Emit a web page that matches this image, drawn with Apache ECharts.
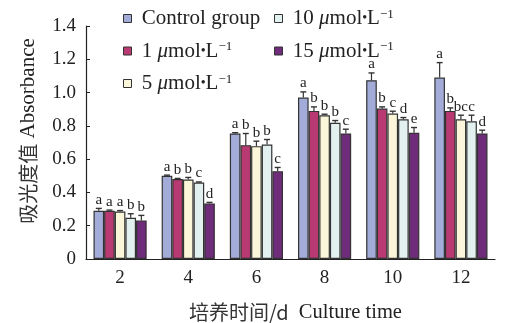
<!DOCTYPE html>
<html>
<head>
<meta charset="utf-8">
<script src="https://cdn.jsdelivr.net/npm/echarts@6/dist/echarts.min.js"></script>
<style>html,body{margin:0;padding:0;background:#fff;}#c{width:505px;height:323px;}</style>
</head>
<body>
<div id="c"></div>
<script>
const categories = ['2', '4', '6', '8', '10', '12'];
const seriesNames = ['Control group', '1 μmol•L-1', '5 μmol•L-1', '10 μmol•L-1', '15 μmol•L-1'];

const controlVals = [0.290, 0.500, 0.754, 0.970, 1.074, 1.090];
const c1Vals      = [0.290, 0.480, 0.684, 0.890, 0.904, 0.890];
const c5Vals      = [0.285, 0.478, 0.678, 0.864, 0.874, 0.840];
const c10Vals     = [0.248, 0.460, 0.688, 0.818, 0.840, 0.828];
const c15Vals     = [0.232, 0.334, 0.528, 0.754, 0.758, 0.754];

const controlErr = [0.014, 0.004, 0.005, 0.034, 0.044, 0.090];
const c1Err      = [0.004, 0.004, 0.070, 0.024, 0.010, 0.018];
const c5Err      = [0.006, 0.012, 0.030, 0.006, 0.014, 0.024];
const c10Err     = [0.024, 0.003, 0.030, 0.014, 0.010, 0.036];
const c15Err     = [0.030, 0.006, 0.022, 0.026, 0.032, 0.020];

const controlLetters = ['a', 'a', 'a', 'a', 'a', 'a'];
const c1Letters      = ['a', 'b', 'b', 'b', 'b', 'b'];
const c5Letters      = ['a', 'b', 'b', 'b', 'c', 'bc'];
const c10Letters     = ['b', 'c', 'b', 'b', 'd', 'c'];
const c15Letters     = ['b', 'd', 'c', 'c', 'e', 'd'];

const yTicks = ['0', '0.2', '0.4', '0.6', '0.8', '1.0', '1.2', '1.4'];

const allVals = [controlVals, c1Vals, c5Vals, c10Vals, c15Vals];
const allErr = [controlErr, c1Err, c5Err, c10Err, c15Err];
const allLetters = [controlLetters, c1Letters, c5Letters, c10Letters, c15Letters];
const colors = ['#a3acd8', '#b93a72', '#fbf6d9', '#e2f1ef', '#6e2c7a'];

const SERIF = '"Liberation Serif", "Times New Roman", serif';
const CJK = '"Noto Sans CJK SC", sans-serif';
const GAP = 0.22;

const chart = echarts.init(document.getElementById('c'), null, {renderer: 'canvas'});

function legendFmt(name) {
  if (name.indexOf('μmol') < 0) return '{sp| }{t|' + name + '}';
  const num = name.split(' ')[0];
  return '{sp| }{t|' + num + ' }{mu|μ}{t|mol}{dot|•}{t|L}{sup|−1}';
}
const legendRich = {
  sp: {fontFamily: SERIF, fontSize: 21, color: '#222'},
  t: {fontFamily: SERIF, fontSize: 21, color: '#222'},
  mu: {fontFamily: SERIF, fontSize: 21, fontStyle: 'italic', color: '#222'},
  dot: {fontFamily: SERIF, fontSize: 14, color: '#222'},
  sup: {fontFamily: SERIF, fontSize: 13, color: '#222', verticalAlign: 'top'}
};

const barSeries = seriesNames.map((n, i) => ({
  name: n,
  type: 'bar',
  data: allVals[i],
  barGap: '0%',
  barCategoryGap: (GAP * 100) + '%',
  itemStyle: {color: colors[i], borderColor: '#333', borderWidth: 1.2},
  z: 2
}));

const errSeries = seriesNames.map((n, si) => ({
  type: 'custom',
  name: 'err' + si,
  z: 3,
  silent: true,
  data: categories.map((c, k) => [k, allVals[si][k], allErr[si][k]]),
  renderItem: function (params, api) {
    const k = api.value(0), v = api.value(1), e = api.value(2);
    const base = api.coord([k, v]);
    const top = api.coord([k, v + e]);
    const band = api.size([1, 0])[0];
    const bw = band * (1 - GAP) / 5;
    const x = base[0] + (si - 2) * bw;
    return {
      type: 'group',
      children: [
        {type: 'line', shape: {x1: x, y1: base[1], x2: x, y2: top[1]}, style: {stroke: '#333', lineWidth: 1.2}},
        {type: 'line', shape: {x1: x - 3, y1: top[1], x2: x + 3, y2: top[1]}, style: {stroke: '#333', lineWidth: 1.4}},
        {type: 'text', x: x, y: top[1] - 1, style: {text: allLetters[si][k], textAlign: 'center', textVerticalAlign: 'bottom', font: '15px ' + SERIF, fill: '#222'}}
      ]
    };
  }
}));

const legendCommon = {
  orient: 'vertical', top: 3, itemGap: 11.5, itemWidth: 8, itemHeight: 8,
  icon: 'rect', formatter: legendFmt, textStyle: {rich: legendRich},
  itemStyle: {borderColor: '#333', borderWidth: 1}
};

chart.setOption({
  animation: false,
  backgroundColor: '#fff',
  grid: {left: 86, right: 10, top: 26, bottom: 64, containLabel: false, outerBoundsMode: 'none'},
  legend: [
    Object.assign({data: seriesNames.slice(0, 3), left: 118}, legendCommon),
    Object.assign({data: seriesNames.slice(3), left: 269}, legendCommon)
  ],
  xAxis: {
    type: 'category',
    data: categories,
    name: '{cn|培养时间/d}{en|  Culture time}',
    nameLocation: 'middle',
    nameGap: 43,
    nameTextStyle: {rich: {cn: {fontFamily: CJK, fontSize: 20, color: '#333'}, en: {fontFamily: SERIF, fontSize: 20.5, color: '#222'}}, padding: [0, 0, 0, 10]},
    axisLine: {lineStyle: {color: '#222', width: 1.2}},
    axisTick: {inside: true, length: 4, lineStyle: {color: '#222'}},
    axisLabel: {fontFamily: SERIF, fontSize: 19, color: '#222', margin: 10}
  },
  yAxis: {
    type: 'value',
    min: 0, max: 1.4, interval: 0.2,
    splitLine: {show: false},
    axisLine: {show: true, lineStyle: {color: '#222', width: 1.2}},
    axisTick: {show: true, inside: true, length: 4, lineStyle: {color: '#222'}},
    axisLabel: {fontFamily: SERIF, fontSize: 19, color: '#222', margin: 10,
      formatter: function (v) { return yTicks[Math.round(v / 0.2)]; }}
  },
  graphic: [{
    type: 'text',
    x: 28, y: 131,
    rotation: Math.PI / 2,
    style: {
      text: '{cn|吸光度值}{en| Absorbance}',
      textAlign: 'center', textVerticalAlign: 'middle',
      rich: {cn: {fontFamily: CJK, fontSize: 20, fill: '#333'}, en: {fontFamily: SERIF, fontSize: 21, fill: '#222'}}
    }
  }],
  series: barSeries.concat(errSeries)
});
</script>
</body>
</html>
